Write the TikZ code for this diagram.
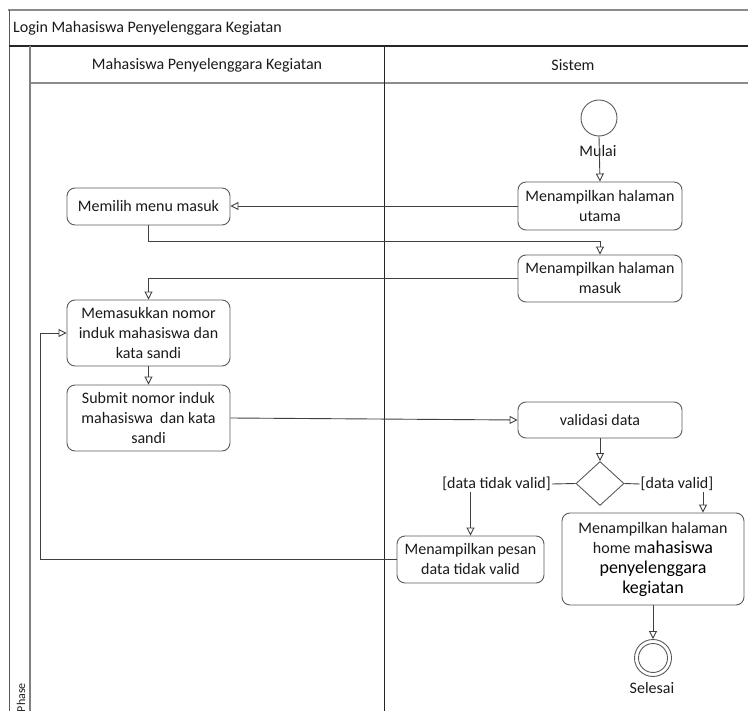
\documentclass[tikz,border=0pt]{standalone}
\usepackage{fontspec}
\setmainfont{Carlito}
\usetikzlibrary{arrows.meta,shapes.geometric}
\definecolor{lineC}{HTML}{404040}
\definecolor{boxC}{HTML}{5A5A5A}
\definecolor{txtC}{HTML}{1A1A1A}
\begin{document}
\begin{tikzpicture}[x=1pt,y=-1pt,
  act/.style={draw=boxC, line width=0.9pt, rounded corners=8pt, align=center, text=txtC,
    font=\fontsize{16}{20}\selectfont, inner sep=0pt},
  flow/.style={draw=lineC, line width=0.9pt, -{Triangle[open,length=8pt,width=8pt]}},
  plain/.style={draw=lineC, line width=0.9pt},
  lbl/.style={font=\fontsize{16}{20}\selectfont, inner sep=1pt, text=txtC}]
\useasboundingbox (0,0) rectangle (748,711);
\clip (0,0) rectangle (748,711);
% pool frame
\draw[black!45, line width=1.3pt] (8,10) -- (770,10);
\draw[black!65, line width=1pt] (9,10) -- (9,730);
\draw[black!85, line width=1.1pt] (9,46) -- (770,46);
\draw[black!45, line width=1.3pt] (30,83) -- (770,83);
\draw[black!50, line width=1.4pt] (30,46) -- (30,730);
\draw[black!85, line width=1pt] (384,46) -- (384,730);
\node[lbl, anchor=west] (title) at (12,28) {Login Mahasiswa Penyelenggara Kegiatan};
\node[lbl] (lane1) at (207,65) {Mahasiswa Penyelenggara Kegiatan};
\node[lbl] (lane2) at (573,65) {Sistem};
\node[rotate=90, anchor=east, font=\fontsize{12}{14}\selectfont, inner sep=0pt, text=txtC] (phase) at (21,683) {Phase};
% nodes
\node[circle, draw=boxC, line width=0.9pt, minimum size=36pt, inner sep=0pt] (start) at (599,118) {};
\node[act, minimum width=164pt, minimum height=48pt] (utama) at (600,206) {Menampilkan halaman\\utama};
\node[act, minimum width=163pt, minimum height=37pt] (memilih) at (148.5,206.5) {Memilih menu masuk};
\node[act, minimum width=164pt, minimum height=47pt] (masuk) at (600,278.5) {Menampilkan halaman\\masuk};
\node[act, minimum width=163pt, minimum height=66pt] (masukkan) at (148.5,333) {Memasukkan nomor\\induk mahasiswa dan\\kata sandi};
\node[act, minimum width=163pt, minimum height=66pt] (submit) at (148.5,418) {Submit nomor induk\\mahasiswa\ \ dan kata\\sandi};
\node[act, minimum width=164pt, minimum height=36pt] (validasi) at (600,420) {validasi data};
\node[diamond, draw=boxC, line width=0.9pt, minimum width=48pt, minimum height=44pt, inner sep=0pt] (dec) at (600,483.5) {};
\node[lbl] (ntv) at (496.5,484) {[data tidak valid]};
\node[lbl] (vd) at (677,484) {[data valid]};
\node[act, minimum width=147pt, minimum height=47pt] (pesan) at (470.5,559.5) {Menampilkan pesan\\data tidak valid};
\node[act, minimum width=182pt, minimum height=92pt] (home) at (653,559) {Menampilkan halaman\\home m{\fontsize{18}{22}\selectfont\color{black}ahasiswa}\\{\fontsize{18}{22}\selectfont\color{black}penyelenggara}\\{\fontsize{18}{22}\selectfont\color{black}kegiatan}};
\node[circle, draw=boxC, line width=0.9pt, minimum size=37pt, inner sep=0pt] (end) at (653,658) {};
\node[circle, draw=boxC, line width=0.9pt, minimum size=29pt, inner sep=0pt] (endin) at (end) {};
\node[lbl] (mulai) at (598,151) {Mulai};
\node[lbl] (selesai) at (652,688) {Selesai};
% helper coordinates
\coordinate (c1) at (148.5,241);
\coordinate (lp) at (40,559.5);
\coordinate (vdx) at (703,0);
\coordinate (ntvx) at (470.5,0);
% connectors
\draw[flow] (start.south) -- (utama.north);
\draw[flow] (utama.west) -- (utama.west -| memilih.east);
\draw[flow] (memilih.south) -- (c1) -| (masuk.north);
\draw[flow] (masuk.west) -| (masukkan.north);
\draw[flow] (masukkan.south) -- (submit.north);
\draw[flow] (submit.east) -- (validasi.west);
\draw[flow] (validasi.south) -- (dec.north);
\draw[plain] (dec.west) -- (ntv.east);
\draw[plain] (dec.east) -- (vd.west);
\draw[flow] (ntv.south -| ntvx) -- (ntvx |- pesan.north);
\draw[flow] (vd.south -| vdx) -- (vdx |- home.north);
\draw[flow] (pesan.west) -- (lp) |- (masukkan.west);
\draw[flow] (home.south) -- (end.north);
\end{tikzpicture}
\end{document}
